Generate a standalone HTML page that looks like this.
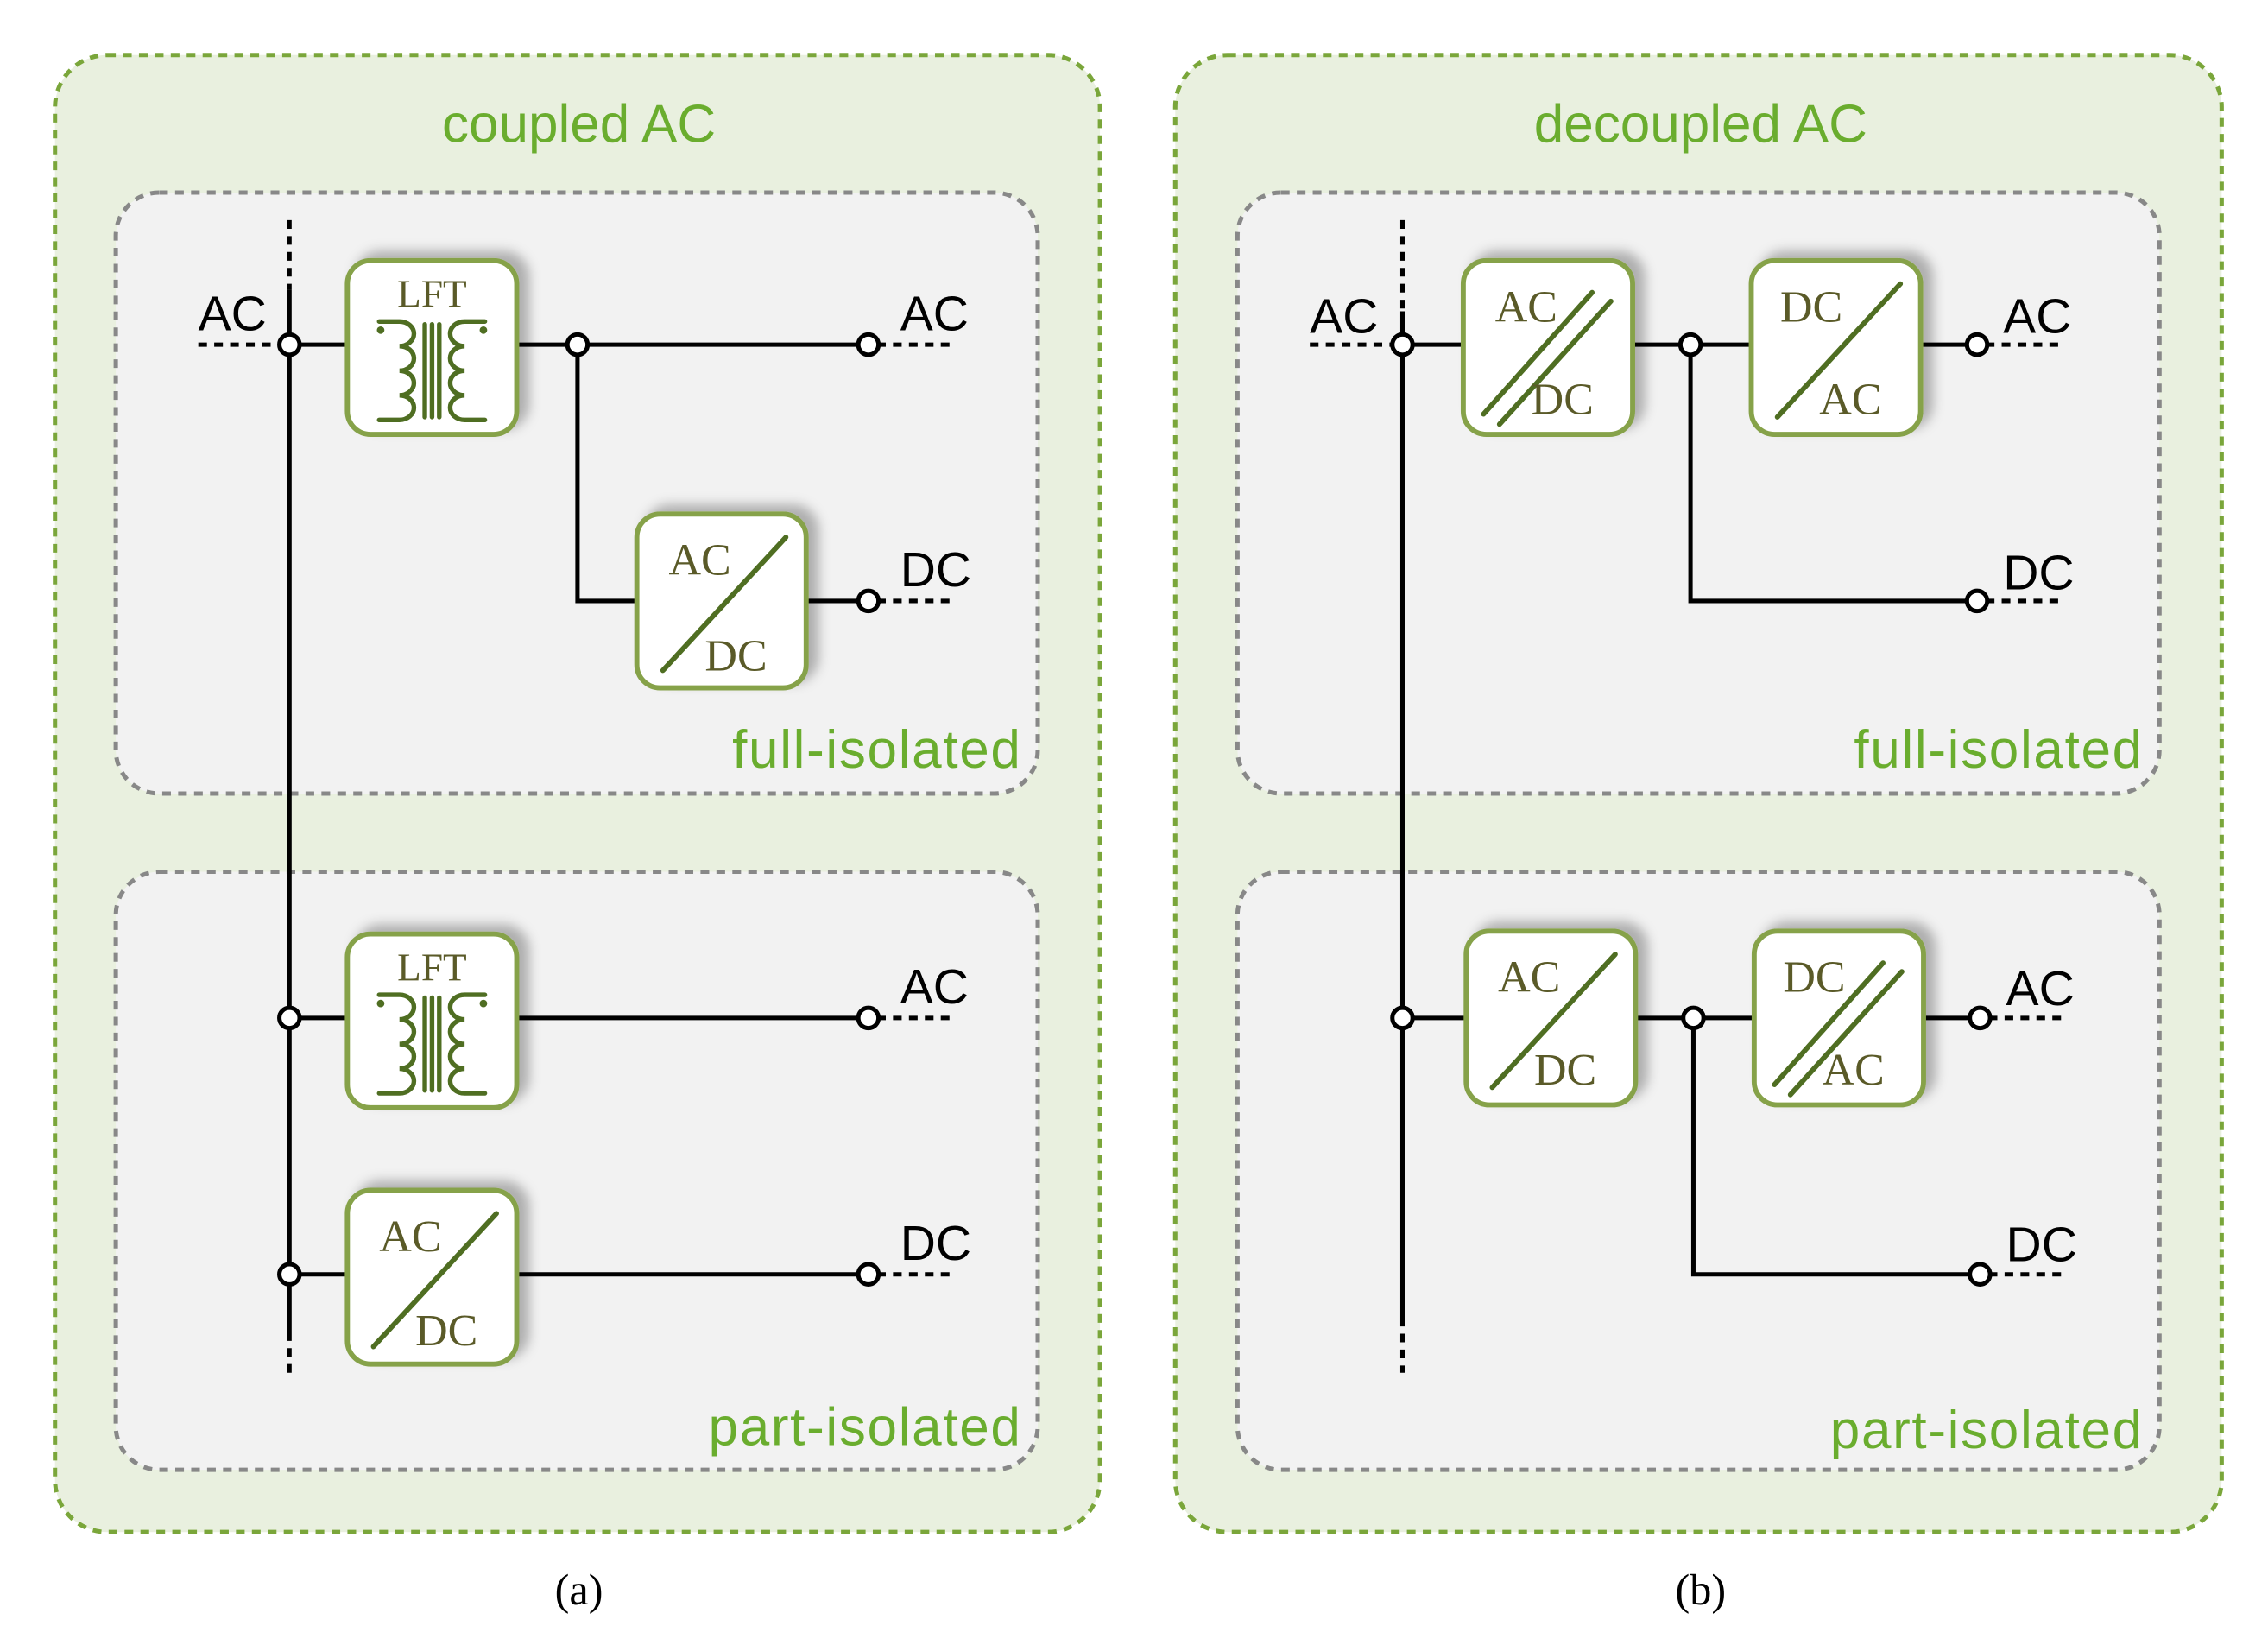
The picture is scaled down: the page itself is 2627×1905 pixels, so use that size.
<!DOCTYPE html>
<html><head><meta charset="utf-8"><style>html,body{margin:0;padding:0;background:#fff}svg{display:block}</style></head>
<body>
<svg width="2627" height="1905" viewBox="0 0 1567 1136" preserveAspectRatio="none" xmlns="http://www.w3.org/2000/svg">
<defs>
<filter id="sh" x="-30%" y="-30%" width="160%" height="160%"><feDropShadow dx="7" dy="-5" stdDeviation="4" flood-color="#000" flood-opacity="0.28"/></filter>
<g id="bx"><rect x="0" y="0" width="117" height="120" rx="16" fill="#fff" stroke="#86a24a" stroke-width="3.5" filter="url(#sh)"/></g>
<g id="lft">
<use href="#bx"/>
<text x="58.5" y="32" font-family="Liberation Serif,serif" font-size="27" fill="#5a5a28" text-anchor="middle">LFT</text>
<g fill="none" stroke="#4f6e22" stroke-width="3.2" stroke-linecap="round">
<path d="M22,42 H36 a10,8.5 0 0 1 0,17 a10,8.5 0 0 1 0,17 a10,8.5 0 0 1 0,17 a10,8.5 0 0 1 0,17 H22"/>
<path d="M95,42 H81 a10,8.5 0 0 0 0,17 a10,8.5 0 0 0 0,17 a10,8.5 0 0 0 0,17 a10,8.5 0 0 0 0,17 H95"/>
<path d="M53.5,44 V108 M58.5,44 V108 M63.5,44 V108"/>
</g>
<circle cx="23" cy="48" r="2.6" fill="#4f6e22"/><circle cx="94" cy="48" r="2.6" fill="#4f6e22"/>
</g>
<g id="conv1">
<use href="#bx"/>
<line x1="18" y1="108" x2="103" y2="16" stroke="#4f6e22" stroke-width="3.5" stroke-linecap="round"/>
</g>
<g id="conv2">
<use href="#bx"/>
<line x1="14" y1="106" x2="89" y2="22" stroke="#4f6e22" stroke-width="3.5" stroke-linecap="round"/>
<line x1="25" y1="113" x2="102" y2="28" stroke="#4f6e22" stroke-width="3.5" stroke-linecap="round"/>
</g>
</defs>

<rect x="38" y="38" width="722" height="1020" rx="36" fill="#e9f0df" stroke="#7aa63a" stroke-width="3" stroke-dasharray="6,5"/>
<rect x="812" y="38" width="723" height="1020" rx="36" fill="#e9f0df" stroke="#7aa63a" stroke-width="3" stroke-dasharray="6,5"/>
<g font-family="Liberation Sans,sans-serif" font-size="37" fill="#6aad2e" text-anchor="middle">
<text x="400" y="98">coupled AC</text>
<text x="1175" y="98">decoupled AC</text>
</g>
<g fill="#f2f2f2" stroke="#888" stroke-width="3" stroke-dasharray="6,5">
<rect x="80" y="133" width="637" height="415" rx="30"/>
<rect x="80" y="602" width="637" height="413" rx="30"/>
<rect x="855" y="133" width="637" height="415" rx="30"/>
<rect x="855" y="602" width="637" height="413" rx="30"/>
</g>
<g font-family="Liberation Sans,sans-serif" font-size="37" fill="#6aad2e" text-anchor="end" letter-spacing="1">
<text x="706" y="530">full-isolated</text>
<text x="706" y="998">part-isolated</text>
<text x="1481" y="530">full-isolated</text>
<text x="1481" y="1000">part-isolated</text>
</g>

<g stroke="#000" stroke-width="3" fill="none">
<path d="M200,200 V920"/>
<path d="M200,238 H240 M357,238 H600 M399,238 V415 H440 M557,415 H600 M200,703 H240 M357,703 H600 M200,880 H240 M357,880 H600"/>
<path d="M969,215 V910"/>
<path d="M969,238 H1011 M1128,238 H1210 M1326,238 H1366 M1168,238 V415 H1366 M969,703 H1013 M1130,703 H1212 M1329,703 H1368 M1170,703 V880 H1368"/>
</g>
<g stroke="#000" stroke-width="3" fill="none" stroke-dasharray="6,5">
<path d="M200,152 V200 M200,920 V948 M137,238 H195 M606,238 H660 M606,415 H660 M606,703 H660 M606,880 H660"/>
<path d="M969,152 V215 M969,910 V948 M905,238 H964 M1372,238 H1425 M1372,415 H1425 M1374,703 H1427 M1374,880 H1427"/>
</g>
<g fill="#fff" stroke="#000" stroke-width="3">
<circle cx="200" cy="238" r="7"/><circle cx="399" cy="238" r="7"/><circle cx="600" cy="238" r="7"/><circle cx="600" cy="415" r="7"/>
<circle cx="200" cy="703" r="7"/><circle cx="600" cy="703" r="7"/><circle cx="200" cy="880" r="7"/><circle cx="600" cy="880" r="7"/>
<circle cx="969" cy="238" r="7"/><circle cx="1168" cy="238" r="7"/><circle cx="1366" cy="238" r="7"/><circle cx="1366" cy="415" r="7"/>
<circle cx="969" cy="703" r="7"/><circle cx="1170" cy="703" r="7"/><circle cx="1368" cy="703" r="7"/><circle cx="1368" cy="880" r="7"/>
</g>
<g font-family="Liberation Sans,sans-serif" font-size="34" fill="#000">
<text x="137" y="228">AC</text><text x="622" y="228">AC</text><text x="622" y="405">DC</text>
<text x="622" y="693">AC</text><text x="622" y="870">DC</text>
<text x="905" y="230">AC</text><text x="1384" y="230">AC</text><text x="1384" y="407">DC</text>
<text x="1386" y="694">AC</text><text x="1386" y="871">DC</text>
</g>

<use href="#lft" x="240" y="180"/>
<use href="#lft" x="240" y="645"/>
<use href="#conv1" x="440" y="355"/>
<use href="#conv1" x="240" y="822"/>
<use href="#conv2" x="1011" y="180"/>
<use href="#conv1" x="1210" y="180"/>
<use href="#conv1" x="1013" y="643"/>
<use href="#conv2" x="1212" y="643"/>

<g font-family="Liberation Serif,serif" font-size="31" fill="#5a5a28">
<text x="462" y="397">AC</text><text x="487" y="463">DC</text>
<text x="262" y="864">AC</text><text x="287" y="929">DC</text>
<text x="1033" y="222">AC</text><text x="1058" y="286">DC</text>
<text x="1230" y="222">DC</text><text x="1257" y="286">AC</text>
<text x="1035" y="685">AC</text><text x="1060" y="749">DC</text>
<text x="1232" y="685">DC</text><text x="1259" y="749">AC</text>
</g>

<g font-family="Liberation Serif,serif" font-size="30" fill="#000" text-anchor="middle">
<text x="400" y="1108">(a)</text>
<text x="1175" y="1108">(b)</text>
</g>
</svg>
</body></html>
